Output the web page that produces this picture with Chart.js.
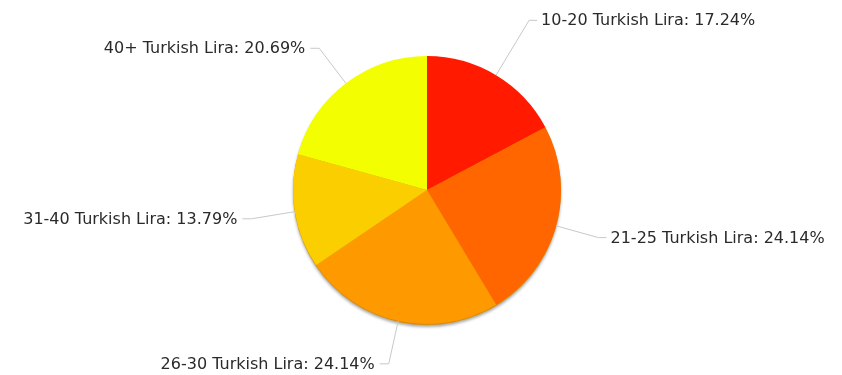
<!DOCTYPE html>
<html>
<head>
<meta charset="utf-8">
<script src="https://cdn.jsdelivr.net/npm/chart.js@4"></script>
<style>
    html, body { margin: 0; padding: 0; background: #fff; }
    #wrap { width: 842px; height: 375px; }
</style>
</head>
<body>
<div id="wrap"><canvas id="priceChart" width="842" height="375"></canvas></div>
<script>
// ========== DATA ==========
const categories = ['10-20 Turkish Lira', '21-25 Turkish Lira', '26-30 Turkish Lira', '31-40 Turkish Lira', '40+ Turkish Lira'];
const counts = [5, 7, 7, 4, 6];
const sliceColors = ['#ff1a00', '#ff6600', '#ff9900', '#fbce00', '#f3ff00'];

// ========== SHADOW BEHIND THE PIE ==========
const pieShadow = {
    id: 'pieShadow',
    beforeDatasetsDraw(chart) {
        const arc = chart.getDatasetMeta(0).data[0];
        if (!arc) return;
        const ctx = chart.ctx;
        ctx.save();
        ctx.shadowColor = 'rgba(0, 0, 0, 0.35)';
        ctx.shadowBlur = 3;
        ctx.shadowOffsetY = 2;
        ctx.fillStyle = '#d98c00';
        ctx.beginPath();
        ctx.arc(arc.x, arc.y + 1, arc.outerRadius, 0, Math.PI * 2);
        ctx.fill();
        ctx.restore();
    }
};

// ========== LABELS WITH LEADER LINES ==========
const pieLabels = {
    id: 'pieLabels',
    afterDatasetsDraw(chart, args, opts) {
        const ctx = chart.ctx;
        const meta = chart.getDatasetMeta(0);
        const total = counts.reduce((a, b) => a + b, 0);
        ctx.save();
        ctx.font = '16px "DejaVu Sans"';
        ctx.textBaseline = 'middle';
        meta.data.forEach((arc, i) => {
            const mid = (arc.startAngle + arc.endAngle) / 2;
            const r = arc.outerRadius;
            const len = (opts.leader && opts.leader[i]) || 44;
            const cos = Math.cos(mid), sin = Math.sin(mid);
            const x0 = arc.x + cos * r, y0 = arc.y + sin * r;
            const x1 = arc.x + cos * (r + len), y1 = arc.y + sin * (r + len);
            const right = cos >= 0;
            const x2 = x1 + (right ? 8 : -9);

            ctx.strokeStyle = '#c8c8c8';
            ctx.lineWidth = 1;
            ctx.beginPath();
            ctx.moveTo(x0, y0);
            ctx.lineTo(x1, y1);
            ctx.lineTo(x2, y1);
            ctx.stroke();

            const pct = (counts[i] / total * 100).toFixed(2);
            ctx.fillStyle = '#2a2a2a';
            ctx.textAlign = right ? 'left' : 'right';
            ctx.fillText(categories[i] + ': ' + pct + '%', x2 + (right ? 4 : -5), y1 + 1);
        });
        ctx.restore();
    }
};

new Chart(document.getElementById('priceChart'), {
    type: 'pie',
    data: {
        labels: categories,
        datasets: [{
            data: counts,
            backgroundColor: sliceColors,
            borderWidth: 0
        }]
    },
    options: {
        responsive: false,
        animation: false,
        layout: {
            padding: { top: 56, bottom: 51, left: 200, right: 188 }
        },
        plugins: {
            legend: { display: false },
            tooltip: { enabled: false },
            // top label sits further out than the rest
            pieLabels: { leader: { 0: 64 } }
        }
    },
    plugins: [pieShadow, pieLabels]
});
</script>
</body>
</html>
